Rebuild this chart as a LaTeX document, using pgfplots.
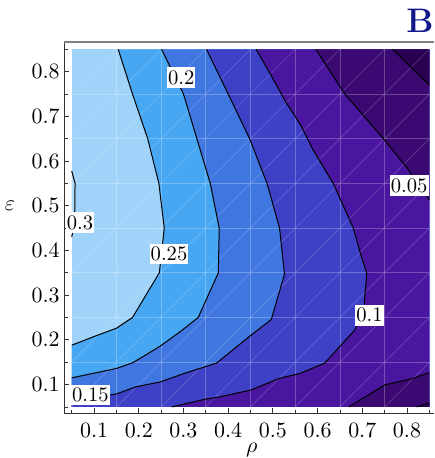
\documentclass[border=0pt]{standalone}
\usepackage{pgfplots}
\pgfplotsset{compat=1.18}
\definecolor{r0}{RGB}{176,221,251}
\definecolor{r1}{RGB}{160,211,249}
\definecolor{r2}{RGB}{72,167,242}
\definecolor{r3}{RGB}{64,118,224}
\definecolor{r4}{RGB}{62,64,198}
\definecolor{r5}{RGB}{74,22,160}
\definecolor{r6}{RGB}{58,9,113}
\definecolor{r7}{RGB}{42,0,82}
\definecolor{titleblue}{RGB}{16,24,140}
\begin{document}
\begin{tikzpicture}
\begin{axis}[
  scale only axis, width=184.85pt, height=185.65pt,
  xmin=0.03345, xmax=0.8605, ymin=0.0357, ymax=0.8663,
  axis line style={draw=none},
  xtick={0.1,0.2,0.3,0.4,0.5,0.6,0.7,0.8},
  ytick={0.1,0.2,0.3,0.4,0.5,0.6,0.7,0.8},
  minor xtick={0.05,0.15,0.25,0.35,0.45,0.55,0.65,0.75,0.85},
  minor ytick={0.05,0.15,0.25,0.35,0.45,0.55,0.65,0.75,0.85},
  xtick pos=left, ytick pos=left, tick align=inside,
  major tick length=2.5pt, minor tick length=1.6pt,
  tick style={black!80, line width=0.4pt},
  ticklabel style={font=\fontsize{10.5}{12}\selectfont},
  xticklabel style={yshift=-1.3pt},
  yticklabel style={xshift=1.2pt},
  xlabel={$\rho$}, ylabel={$\varepsilon$},
  xlabel style={at={(axis description cs:0.507,-0.0975)}, anchor=center, font=\fontsize{11}{12}\selectfont},
  ylabel style={at={(axis description cs:-0.147,0.56)}, anchor=center, rotate=-90, font=\fontsize{11}{12}\selectfont},
  clip=false,
  unbounded coords=jump,
]
% filled contour regions
\addplot[fill=r1, draw=none] coordinates {(0.05,0.05) (0.85,0.05) (0.85,0.85) (0.05,0.85)} -- cycle;
\addplot[fill=r0, draw=none] coordinates {(0.05,0.578) (0.0575,0.55) (0.0565,0.46) (0.05,0.43)} -- cycle;
\addplot[fill=r2, draw=none] coordinates {(0.154,0.85) (0.186,0.75) (0.220,0.65) (0.245,0.55) (0.257,0.45) (0.246,0.35) (0.186,0.25) (0.150,0.226) (0.104,0.209) (0.05,0.188) (0.05,0.05) (0.85,0.05) (0.85,0.85)} -- cycle;
\addplot[fill=r3, draw=none] coordinates {(0.251,0.85) (0.300,0.75) (0.330,0.65) (0.360,0.55) (0.380,0.45) (0.378,0.35) (0.333,0.25) (0.295,0.220) (0.248,0.186) (0.187,0.149) (0.150,0.136) (0.05,0.115) (0.05,0.05) (0.85,0.05) (0.85,0.85)} -- cycle;
\addplot[fill=r4, draw=none] coordinates {(0.3515,0.85) (0.400,0.75) (0.448,0.65) (0.487,0.55) (0.515,0.45) (0.526,0.347) (0.4965,0.2455) (0.448,0.208) (0.374,0.148) (0.302,0.125) (0.2485,0.106) (0.194,0.095) (0.150,0.079) (0.10,0.071) (0.05,0.064) (0.05,0.05) (0.85,0.05) (0.85,0.85)} -- cycle;
\addplot[fill=r5, draw=none] coordinates {(0.4625,0.85) (0.497,0.79) (0.530,0.73) (0.550,0.70) (0.565,0.675) (0.590,0.625) (0.635,0.55) (0.680,0.45) (0.695,0.396) (0.710,0.349) (0.704,0.276) (0.684,0.223) (0.616,0.148) (0.561,0.125) (0.515,0.114) (0.450,0.0875) (0.374,0.071) (0.352,0.068) (0.274,0.05) (0.85,0.05) (0.85,0.85)} -- cycle;
\addplot[fill=r6, draw=none] coordinates {(0.596,0.85) (0.661,0.75) (0.747,0.65) (0.80,0.585) (0.85,0.513) (0.85,0.85)} -- cycle;
\addplot[fill=r6, draw=none] coordinates {(0.670,0.05) (0.750,0.099) (0.814,0.114) (0.85,0.127) (0.85,0.05)} -- cycle;
\addplot[fill=r7, draw=none] coordinates {(0.768,0.85) (0.85,0.77) (0.85,0.85)} -- cycle;
\addplot[fill=r7, draw=none] coordinates {(0.822,0.05) (0.85,0.059) (0.85,0.05)} -- cycle;
% sampling mesh
\addplot[white, opacity=0.25, line width=0.4pt] coordinates {
 (0.15,0.05) (0.15,0.85) (nan,nan) (0.25,0.05) (0.25,0.85) (nan,nan)
 (0.35,0.05) (0.35,0.85) (nan,nan) (0.45,0.05) (0.45,0.85) (nan,nan)
 (0.55,0.05) (0.55,0.85) (nan,nan) (0.65,0.05) (0.65,0.85) (nan,nan)
 (0.75,0.05) (0.75,0.85) (nan,nan)
 (0.05,0.15) (0.85,0.15) (nan,nan) (0.05,0.25) (0.85,0.25) (nan,nan)
 (0.05,0.35) (0.85,0.35) (nan,nan) (0.05,0.45) (0.85,0.45) (nan,nan)
 (0.05,0.55) (0.85,0.55) (nan,nan) (0.05,0.65) (0.85,0.65) (nan,nan)
 (0.05,0.75) (0.85,0.75)};
\addplot[white, opacity=0.2, line width=0.35pt] coordinates {
 (0.05,0.05) (0.85,0.85) (nan,nan)
 (0.05,0.15) (0.75,0.85) (nan,nan) (0.05,0.25) (0.65,0.85) (nan,nan)
 (0.05,0.35) (0.55,0.85) (nan,nan) (0.05,0.45) (0.45,0.85) (nan,nan)
 (0.05,0.55) (0.35,0.85) (nan,nan) (0.05,0.65) (0.25,0.85) (nan,nan)
 (0.05,0.75) (0.15,0.85) (nan,nan)
 (0.15,0.05) (0.85,0.75) (nan,nan) (0.25,0.05) (0.85,0.65) (nan,nan)
 (0.35,0.05) (0.85,0.55) (nan,nan) (0.45,0.05) (0.85,0.45) (nan,nan)
 (0.55,0.05) (0.85,0.35) (nan,nan) (0.65,0.05) (0.85,0.25) (nan,nan)
 (0.75,0.05) (0.85,0.15)};
% contour lines
\addplot[black, line width=0.5pt] coordinates {(0.05,0.578) (0.0575,0.55) (0.0565,0.46) (0.05,0.43)};
\addplot[black, line width=0.5pt] coordinates {(0.154,0.85) (0.186,0.75) (0.220,0.65) (0.245,0.55) (0.257,0.45) (0.246,0.35) (0.186,0.25) (0.150,0.226) (0.104,0.209) (0.05,0.188)};
\addplot[black, line width=0.5pt] coordinates {(0.251,0.85) (0.300,0.75) (0.330,0.65) (0.360,0.55) (0.380,0.45) (0.378,0.35) (0.333,0.25) (0.295,0.220) (0.248,0.186) (0.187,0.149) (0.150,0.136) (0.05,0.115)};
\addplot[black, line width=0.5pt] coordinates {(0.3515,0.85) (0.400,0.75) (0.448,0.65) (0.487,0.55) (0.515,0.45) (0.526,0.347) (0.4965,0.2455) (0.448,0.208) (0.374,0.148) (0.302,0.125) (0.2485,0.106) (0.194,0.095) (0.150,0.079) (0.10,0.071) (0.05,0.064)};
\addplot[black, line width=0.5pt] coordinates {(0.4625,0.85) (0.497,0.79) (0.530,0.73) (0.550,0.70) (0.565,0.675) (0.590,0.625) (0.635,0.55) (0.680,0.45) (0.695,0.396) (0.710,0.349) (0.704,0.276) (0.684,0.223) (0.616,0.148) (0.561,0.125) (0.515,0.114) (0.450,0.0875) (0.374,0.071) (0.352,0.068) (0.274,0.05)};
\addplot[black, line width=0.5pt] coordinates {(0.596,0.85) (0.661,0.75) (0.747,0.65) (0.80,0.585) (0.85,0.513)};
\addplot[black, line width=0.5pt] coordinates {(0.670,0.05) (0.750,0.099) (0.814,0.114) (0.85,0.127)};
\addplot[black, line width=0.5pt] coordinates {(0.768,0.85) (0.85,0.77)};
\addplot[black, line width=0.5pt] coordinates {(0.822,0.05) (0.85,0.059)};
% contour labels
\tikzset{clab/.style={fill=white, inner xsep=0.5pt, inner ysep=1.6pt, font=\fontsize{10.3}{12}\selectfont}}
\node[clab] at (axis cs:0.0686,0.4619) {0.3};
\node[clab] at (axis cs:0.2677,0.3916) {0.25};
\node[clab] at (axis cs:0.2952,0.7869) {0.2};
\node[clab] at (axis cs:0.092,0.077) {0.15};
\node[clab] at (axis cs:0.716,0.255) {0.1};
\node[clab] at (axis cs:0.805,0.545) {0.05};
% frame
\draw[black!80, line width=0.5pt] (rel axis cs:0,1) -- (rel axis cs:0,0) -- (rel axis cs:1,0);
\draw[gray, line width=0.8pt] (rel axis cs:0,1) -- (rel axis cs:1,1);
% panel letter
\node[anchor=base east, inner sep=0pt, text=titleblue, font=\fontsize{17}{17}\selectfont\bfseries] at (axis description cs:1,1) [yshift=4.5pt] {B};
\end{axis}
\pgfresetboundingbox
\path[use as bounding box] ([shift={(-32.15pt,-22.35pt)}]current axis.south west) rectangle ([shift={(0pt,21pt)}]current axis.north east);
\end{tikzpicture}
\end{document}
